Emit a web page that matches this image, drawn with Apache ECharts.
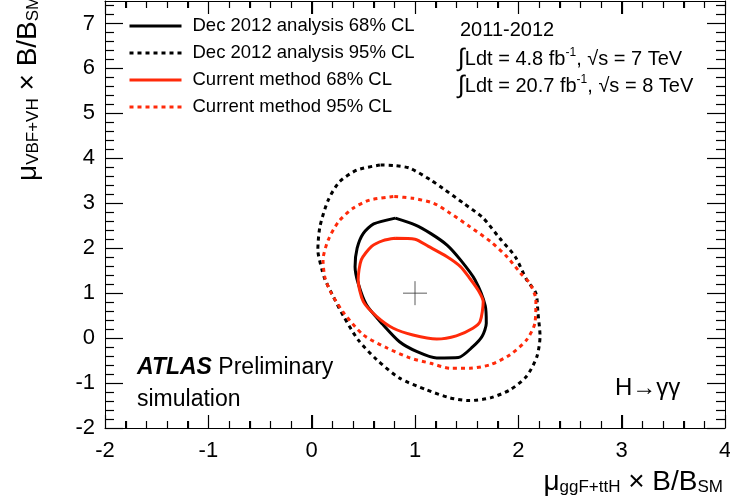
<!DOCTYPE html>
<html>
<head>
<meta charset="utf-8">
<script src="https://cdn.jsdelivr.net/npm/echarts/dist/echarts.min.js"></script>
<style>
  html, body { margin: 0; padding: 0; background: #fff; }
  #chart { width: 730px; height: 498px; }
</style>
</head>
<body>
<div id="chart"></div>
<script>
// Axis ranges
const xRange = [-2, 4];
const yRange = [-2, 7.5];

// Tick positions along each axis
const xMajorTicks = [-2, -1, 0, 1, 2, 3, 4];
const xMinorTicks = [
  -1.8, -1.6, -1.4, -1.2, -0.8, -0.6, -0.4, -0.2, 0.2, 0.4, 0.6, 0.8,
  1.2, 1.4, 1.6, 1.8, 2.2, 2.4, 2.6, 2.8, 3.2, 3.4, 3.6, 3.8
];
const yMajorTicks = [-2, -1, 0, 1, 2, 3, 4, 5, 6, 7];
const yMinorTicks = [
  -1.8, -1.6, -1.4, -1.2, -0.8, -0.6, -0.4, -0.2, 0.2, 0.4, 0.6, 0.8,
  1.2, 1.4, 1.6, 1.8, 2.2, 2.4, 2.6, 2.8, 3.2, 3.4, 3.6, 3.8,
  4.2, 4.4, 4.6, 4.8, 5.2, 5.4, 5.6, 5.8, 6.2, 6.4, 6.6, 6.8, 7.2, 7.4
];

// Legend entries
const seriesNames = [
  'Dec 2012 analysis 68% CL',
  'Dec 2012 analysis 95% CL',
  'Current method 68% CL',
  'Current method 95% CL'
];

// Contours: [mu_ggF+ttH, mu_VBF+VH]
const dec68 = [
  [0.81, 2.67], [0.60, 2.54], [0.50, 2.33], [0.44, 2.00], [0.42, 1.59], [0.45, 1.22],
  [0.53, 0.74], [0.69, 0.30], [0.85, -0.08], [1.02, -0.30], [1.21, -0.44], [1.42, -0.43],
  [1.56, -0.19], [1.65, 0.04], [1.69, 0.33], [1.68, 0.72], [1.58, 1.30], [1.44, 1.74],
  [1.31, 2.07], [1.15, 2.33], [1.00, 2.52]
];
const dec95 = [
  [0.66, 3.85], [0.44, 3.74], [0.27, 3.48], [0.16, 3.07], [0.08, 2.48], [0.06, 1.96],
  [0.10, 1.52], [0.13, 1.30], [0.21, 0.92], [0.31, 0.48], [0.45, -0.04], [0.63, -0.48],
  [0.85, -0.89], [1.11, -1.15], [1.34, -1.33], [1.53, -1.39], [1.73, -1.33], [1.92, -1.15],
  [2.08, -0.85], [2.18, -0.41], [2.21, 0.04], [2.19, 0.56], [2.17, 1.00], [2.08, 1.30],
  [1.97, 1.81], [1.82, 2.22], [1.66, 2.67], [1.47, 3.00], [1.27, 3.33], [1.15, 3.52],
  [0.95, 3.78], [0.80, 3.84]
];
const cur68 = [
  [0.81, 2.22], [1.00, 2.20], [1.13, 2.04], [1.31, 1.81], [1.44, 1.59], [1.53, 1.33],
  [1.61, 1.07], [1.66, 0.81], [1.63, 0.37], [1.56, 0.22], [1.40, 0.05], [1.21, -0.02],
  [0.98, 0.07], [0.79, 0.22], [0.63, 0.48], [0.50, 0.81], [0.45, 1.30], [0.48, 1.74],
  [0.58, 2.04], [0.69, 2.17]
];
const cur95 = [
  [0.79, 3.15], [0.56, 3.07], [0.40, 2.89], [0.26, 2.59], [0.16, 2.18], [0.11, 1.74],
  [0.13, 1.33], [0.19, 1.00], [0.31, 0.56], [0.50, 0.07], [0.73, -0.22], [0.95, -0.44],
  [1.15, -0.56], [1.34, -0.67], [1.53, -0.67], [1.73, -0.59], [1.92, -0.37], [2.08, -0.04],
  [2.16, 0.33], [2.17, 0.85], [2.11, 1.22], [2.02, 1.45], [1.89, 1.81], [1.73, 2.15],
  [1.53, 2.48], [1.34, 2.78], [1.18, 3.00], [0.98, 3.11]
];
// Best-fit point
const bestFit = [1, 1];

const FONT = '"Liberation Sans", Arial, Helvetica, sans-serif';
const RED = '#ff2a0a';

const closeLoop = pts => pts.concat([pts[0]]);

function contour(name, pts, color, dotted) {
  return {
    name: name,
    type: 'line',
    data: closeLoop(pts),
    symbol: 'none',
    smooth: 0.25,
    silent: true,
    lineStyle: {
      color: color,
      width: 3,
      type: dotted ? [4, 4] : 'solid',
      cap: 'butt',
      join: 'round'
    },
    itemStyle: { color: color }
  };
}

function frameAxis(dim, pos, labels) {
  const range = dim === 'x' ? xRange : yRange;
  return {
    type: 'value', position: pos, min: range[0], max: range[1], interval: 1,
    axisLine: { show: true, onZero: false, lineStyle: { color: '#000', width: 1 } },
    axisTick: { show: true, inside: true, length: dim === 'x' ? 13 : 18, lineStyle: { color: '#000', width: 1 } },
    minorTick: { show: dim === 'x', splitNumber: 5, length: 7, lineStyle: { color: '#000', width: 1 } },
    axisLabel: {
      show: labels, color: '#000', fontSize: 22, fontFamily: FONT,
      margin: dim === 'x' ? 12 : 10, showMaxLabel: dim === 'x'
    },
    splitLine: { show: false }
  };
}

// Tick marks on all four sides of the frame, pointing inward.
// kind: 0 = x major, 1 = x minor, 2 = y major, 3 = y minor
const tickData = []
  .concat(xMajorTicks.map(v => [v, 0]))
  .concat(xMinorTicks.map(v => [v, 1]))
  .concat(yMajorTicks.map(v => [v, 2]))
  .concat(yMinorTicks.map(v => [v, 3]));
const TICK_LEN = [13, 7, 18, 9];

function renderTick(params, api) {
  const v = api.value(0);
  const kind = api.value(1);
  const len = TICK_LEN[kind];
  const style = { stroke: '#000', lineWidth: 1.2, fill: null };
  if (kind < 2) {
    const b = api.coord([v, yRange[0]]);
    const t = api.coord([v, yRange[1]]);
    const x = Math.round(b[0]) + 0.5;
    return {
      type: 'group',
      children: [
        { type: 'line', shape: { x1: x, y1: b[1], x2: x, y2: b[1] - len }, style: style },
        { type: 'line', shape: { x1: x, y1: t[1], x2: x, y2: t[1] + len }, style: style }
      ]
    };
  }
  const l = api.coord([xRange[0], v]);
  const r = api.coord([xRange[1], v]);
  const y = Math.round(l[1]) + 0.5;
  return {
    type: 'group',
    children: [
      { type: 'line', shape: { x1: l[0], y1: y, x2: l[0] + len, y2: y }, style: style },
      { type: 'line', shape: { x1: r[0], y1: y, x2: r[0] - len, y2: y }, style: style }
    ]
  };
}

const chart = echarts.init(document.getElementById('chart'));

const supStyle = { fontSize: 12, verticalAlign: 'top', fontFamily: FONT, fill: '#000' };
const intStyle = { fontSize: 25, fontFamily: FONT, fill: '#000' };

chart.setOption({
  animation: false,
  grid: { left: 105, right: 5, top: 1, bottom: 70, outerBoundsMode: 'none' },
  xAxis: [frameAxis('x', 'bottom', true), frameAxis('x', 'top', false)],
  yAxis: [frameAxis('y', 'left', true), frameAxis('y', 'right', false)],
  legend: {
    orient: 'vertical', left: 128, top: 16, padding: 0,
    itemWidth: 52, itemHeight: 20, itemGap: 7,
    selectedMode: false,
    data: seriesNames,
    lineStyle: { width: 3 },
    itemStyle: { opacity: 0 },
    textStyle: { color: '#000', fontSize: 18.5, lineHeight: 20, fontFamily: FONT, padding: [0, 0, 0, 6] }
  },
  series: [
    contour(seriesNames[0], dec68, '#000', false),
    contour(seriesNames[1], dec95, '#000', true),
    contour(seriesNames[2], cur68, RED, false),
    contour(seriesNames[3], cur95, RED, true),
    {
      type: 'scatter',
      data: [bestFit],
      symbol: 'path://M12,0V24M0,12H24',
      symbolSize: [24, 24],
      silent: true,
      itemStyle: { color: 'none', borderColor: '#333', borderWidth: 1 }
    },
    {
      type: 'custom',
      data: tickData,
      renderItem: renderTick,
      silent: true,
      clip: false,
      zlevel: 1,
      z: 10
    }
  ],
  graphic: [
    {
      type: 'text', left: 137, top: 356,
      style: {
        text: '{b|ATLAS} Preliminary',
        font: '23px ' + FONT, fill: '#000',
        rich: { b: { fontSize: 23, fontWeight: 'bold', fontStyle: 'italic', fontFamily: FONT, fill: '#000' } }
      }
    },
    {
      type: 'text', left: 137, top: 388,
      style: { text: 'simulation', font: '23px ' + FONT, fill: '#000' }
    },
    {
      type: 'text', left: 615, top: 376,
      style: { text: 'H\u2192\u03b3\u03b3', font: '24px ' + FONT, fill: '#000' }
    },
    {
      type: 'text', left: 460, top: 20,
      style: { text: '2011-2012', font: '20px ' + FONT, fill: '#000' }
    },
    {
      type: 'text', left: 458, top: 47,
      style: {
        text: '{i|\u222b}Ldt = 4.8 fb{s|-1}, \u221as = 7 TeV',
        font: '20px ' + FONT, fill: '#000',
        rich: { s: supStyle, i: intStyle }
      }
    },
    {
      type: 'text', left: 458, top: 74,
      style: {
        text: '{i|\u222b}Ldt = 20.7 fb{s|-1}, \u221as = 8 TeV',
        font: '20px ' + FONT, fill: '#000',
        rich: { s: supStyle, i: intStyle }
      }
    },
    {
      type: 'text', x: 723, y: 496,
      style: {
        text: '{m|\u03bc}{s|ggF+ttH}{m| \u00d7 B/B}{s|SM}',
        align: 'right', verticalAlign: 'bottom', fill: '#000',
        rich: {
          m: { fontSize: 28, fontFamily: FONT, fill: '#000', verticalAlign: 'bottom' },
          s: { fontSize: 17, fontFamily: FONT, fill: '#000', verticalAlign: 'bottom' }
        }
      }
    },
    {
      type: 'text', x: 42, y: 181, rotation: Math.PI / 2,
      style: {
        text: '{m|\u03bc}{s|VBF+VH}{m| \u00d7 B/B}{s|SM}',
        align: 'left', verticalAlign: 'bottom', fill: '#000',
        rich: {
          m: { fontSize: 28, fontFamily: FONT, fill: '#000', verticalAlign: 'bottom' },
          s: { fontSize: 17, fontFamily: FONT, fill: '#000', verticalAlign: 'bottom' }
        }
      }
    }
  ]
});
</script>
</body>
</html>
